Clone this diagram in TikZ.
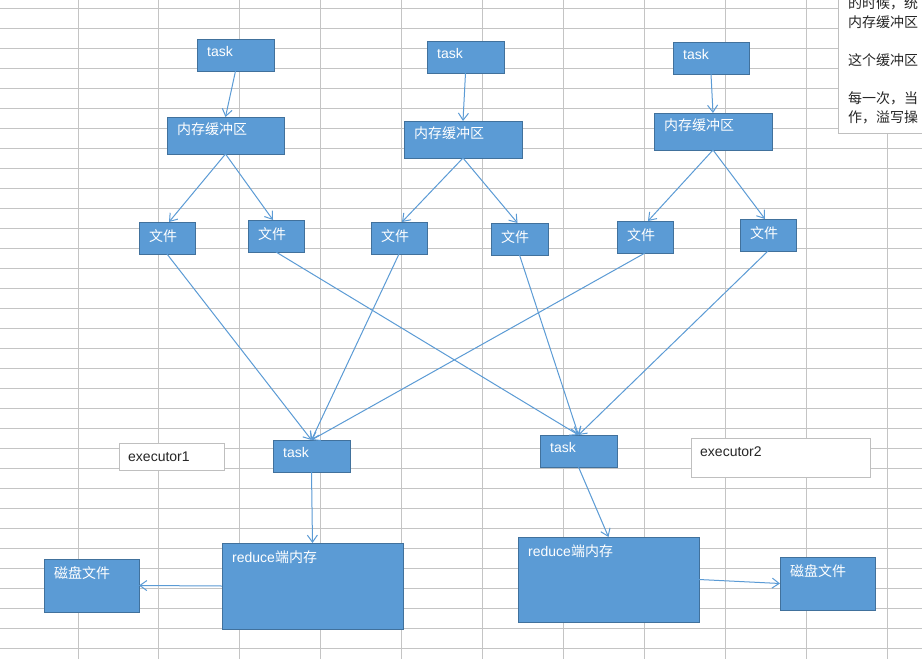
\documentclass[tikz,border=0pt]{standalone}
\usepackage{fontspec}
\setmainfont{Liberation Sans}
\newfontfamily\cjk{Noto Sans CJK SC}
\usetikzlibrary{arrows.meta}
\definecolor{boxfill}{HTML}{5B9BD5}
\definecolor{boxline}{HTML}{41719C}
\definecolor{connblue}{HTML}{5B9BD5}
\definecolor{gridgray}{HTML}{C4C4C4}
\definecolor{notegray}{HTML}{BFBFBF}
\definecolor{darktext}{HTML}{262626}
\tikzset{
  gridline/.style={draw=gridgray, line width=1pt},
  bx/.style={draw=boxline, fill=boxfill, line width=1pt, inner sep=0pt, outer sep=0pt, rectangle},
  whitebx/.style={draw=notegray, fill=white, line width=1pt, inner sep=0pt, outer sep=0pt, rectangle},
  lbl/.style={anchor=north west, inner sep=0pt, xshift=10pt, yshift=-7pt, text=white, font=\fontsize{14}{17}\selectfont},
  dlbl/.style={anchor=north west, inner sep=0pt, xshift=9pt, yshift=-9pt, text=darktext, font=\fontsize{14}{17}\selectfont},
  conn/.style={draw=connblue, line width=1pt, -{Straight Barb[length=7pt,width=10pt]}},
}
\begin{document}
\begin{tikzpicture}[x=1pt,y=-1pt]
\useasboundingbox (0,0) rectangle (922,659);
\clip (0,0) rectangle (922,659);
\fill[white] (0,0) rectangle (922,659);
% spreadsheet grid
\foreach \i in {0,...,10} \draw[gridline] ({78+80.9*\i},0) -- ({78+80.9*\i},659);
\foreach \j in {0,...,32} \draw[gridline] (0,{8+20*\j}) -- (922,{8+20*\j});
% note box top right
\node[whitebx, anchor=north west, minimum width=100pt, minimum height=143pt] (note) at (838,-10) {};
\node[anchor=north west, inner sep=0pt, align=left, text=darktext, font=\cjk\fontsize{14}{19}\selectfont] (notetext) at (848,-4)
  {的时候，统\\内存缓冲区\\[19pt]这个缓冲区\\[19pt]每一次，当\\作，溢写操};
% map side
\node[bx, minimum width=77pt, minimum height=32pt, label={[lbl]north west:task}] (t1) at (235.5,55) {};
\node[bx, minimum width=77pt, minimum height=32pt, label={[lbl]north west:task}] (t2) at (465.5,57) {};
\node[bx, minimum width=76pt, minimum height=32pt, label={[lbl]north west:task}] (t3) at (711,58) {};
\node[bx, minimum width=117pt, minimum height=37pt, label={[lbl,yshift=1pt]north west:{\cjk 内存缓冲区}}] (b1) at (225.5,135.5) {};
\node[bx, minimum width=118pt, minimum height=37pt, label={[lbl,yshift=1pt]north west:{\cjk 内存缓冲区}}] (b2) at (463,139.5) {};
\node[bx, minimum width=118pt, minimum height=37pt, label={[lbl,yshift=1pt]north west:{\cjk 内存缓冲区}}] (b3) at (713,131.5) {};
\node[bx, minimum width=56pt, minimum height=32pt, label={[lbl]north west:{\cjk 文件}}] (f1) at (167,238) {};
\node[bx, minimum width=56pt, minimum height=32pt, label={[lbl]north west:{\cjk 文件}}] (f2) at (276,236) {};
\node[bx, minimum width=56pt, minimum height=32pt, label={[lbl]north west:{\cjk 文件}}] (f3) at (399,238) {};
\node[bx, minimum width=57pt, minimum height=32pt, label={[lbl]north west:{\cjk 文件}}] (f4) at (519.5,239) {};
\node[bx, minimum width=56pt, minimum height=32pt, label={[lbl]north west:{\cjk 文件}}] (f5) at (645,237) {};
\node[bx, minimum width=56pt, minimum height=32pt, label={[lbl]north west:{\cjk 文件}}] (f6) at (768,235) {};
% reduce side
\node[bx, minimum width=77pt, minimum height=32pt, label={[lbl]north west:task}] (tA) at (311.5,456) {};
\node[bx, minimum width=77pt, minimum height=32pt, label={[lbl]north west:task}] (tB) at (578.5,451) {};
\node[whitebx, minimum width=105pt, minimum height=27pt, label={[dlbl]north west:executor1}] (e1) at (171.5,456.5) {};
\node[whitebx, minimum width=179pt, minimum height=39pt, label={[dlbl]north west:executor2}] (e2) at (780.5,457.5) {};
\node[bx, minimum width=181pt, minimum height=86pt, label={[lbl,yshift=-1pt]north west:reduce{\cjk 端内存}}] (r1) at (312.5,586) {};
\node[bx, minimum width=181pt, minimum height=85pt, label={[lbl,yshift=-1pt]north west:reduce{\cjk 端内存}}] (r2) at (608.5,579.5) {};
\node[bx, minimum width=95pt, minimum height=53pt, label={[lbl]north west:{\cjk 磁盘文件}}] (d1) at (91.5,585.5) {};
\node[bx, minimum width=95pt, minimum height=53pt, label={[lbl]north west:{\cjk 磁盘文件}}] (d2) at (827.5,583.5) {};
% connectors
\draw[conn] (t1.south) -- (b1.north);
\draw[conn] (t2.south) -- (b2.north);
\draw[conn] (t3.south) -- (b3.north);
\draw[conn] (b1.south) -- ([xshift=2pt]f1.north);
\draw[conn] (b1.south) -- ([xshift=-3pt]f2.north);
\draw[conn] (b2.south) -- ([xshift=3pt]f3.north);
\draw[conn] (b2.south) -- ([xshift=-2pt]f4.north);
\draw[conn] (b3.south) -- ([xshift=3pt]f5.north);
\draw[conn] (b3.south) -- ([xshift=-3pt]f6.north);
\draw[conn] (f1.south) -- (tA.north);
\draw[conn] (f3.south) -- (tA.north);
\draw[conn] (f5.south) -- (tA.north);
\draw[conn] (f2.south) -- (tB.north);
\draw[conn] (f4.south) -- (tB.north);
\draw[conn] (f6.south) -- (tB.north);
\draw[conn] (tA.south) -- (r1.north);
\draw[conn] (tB.south) -- (r2.north);
\draw[conn] (r1.west) -- (d1.east);
\draw[conn] (r2.east) -- (d2.west);
\end{tikzpicture}
\end{document}
